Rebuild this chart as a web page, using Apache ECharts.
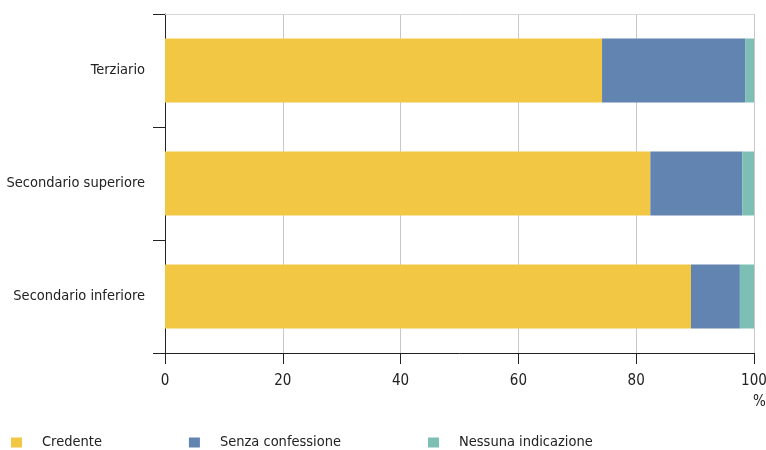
<!DOCTYPE html>
<html>
<head>
<meta charset="utf-8">
<script src="https://cdn.jsdelivr.net/npm/echarts@6/dist/echarts.min.js"></script>
<style>html,body{margin:0;padding:0;background:#fff}#c{width:766px;height:450px}</style>
</head>
<body>
<div id="c"></div>
<script>
const categories = ['Secondario inferiore', 'Secondario superiore', 'Terziario'];
const credente = [89.3, 82.4, 74.2];
const senzaConfessione = [8.3, 15.6, 24.3];
const nessunaIndicazione = [2.4, 2.0, 1.5];
const xTicks = [0, 20, 40, 60, 80, 100];

const FONT = '"Liberation Sans Narrow", "DejaVu Sans Condensed", sans-serif';
const chart = echarts.init(document.getElementById('c'));
const mk = (name, data, color) => ({
  name, type: 'bar', stack: 'total', data, barWidth: 64,
  itemStyle: { color }, emphasis: { disabled: true }
});
chart.setOption({
  animation: false,
  textStyle: { fontFamily: FONT },
  grid: { left: 165, right: 12, top: 14, bottom: 97, containLabel: false, outerBoundsMode: 'none' },
  legend: {
    left: 6, top: 435, itemWidth: 11, itemHeight: 10, itemGap: 87,
    icon: 'rect', padding: [0, 5],
    textStyle: { fontFamily: FONT, fontSize: 14.5, color: '#222', padding: [0, 0, 0, 15] },
    data: ['Credente', 'Senza confessione', 'Nessuna indicazione']
  },
  xAxis: [{
    type: 'value', min: xTicks[0], max: xTicks[xTicks.length - 1], interval: 20,
    axisLine: { show: true, lineStyle: { color: '#222', width: 1 } },
    axisTick: { show: true, length: 11, lineStyle: { color: '#222' } },
    axisLabel: { fontFamily: FONT, fontSize: 15, color: '#222', margin: 21 },
    splitLine: { show: true, lineStyle: { color: '#c8c8c8' } }
  }, {
    type: 'value', position: 'top', min: 0, max: 100,
    axisLine: { show: true, lineStyle: { color: '#d6d6d6', width: 1 } },
    axisTick: { show: false }, axisLabel: { show: false }, splitLine: { show: false }
  }],
  yAxis: {
    type: 'category', data: categories,
    axisLine: { show: true, lineStyle: { color: '#222', width: 1 } },
    axisTick: { show: true, length: 12, lineStyle: { color: '#222' } },
    axisLabel: { fontFamily: FONT, fontSize: 14.5, color: '#222', margin: 20, padding: [8, 0, 0, 0] }
  },
  graphic: [{
    type: 'text', left: 753, top: 395,
    style: { text: '%', fontFamily: FONT, fontSize: 15, fill: '#222' }
  }],
  series: [
    mk('Credente', credente, '#F2C744'),
    mk('Senza confessione', senzaConfessione, '#6284B0'),
    mk('Nessuna indicazione', nessunaIndicazione, '#7DBFB5')
  ]
});
</script>
</body>
</html>
